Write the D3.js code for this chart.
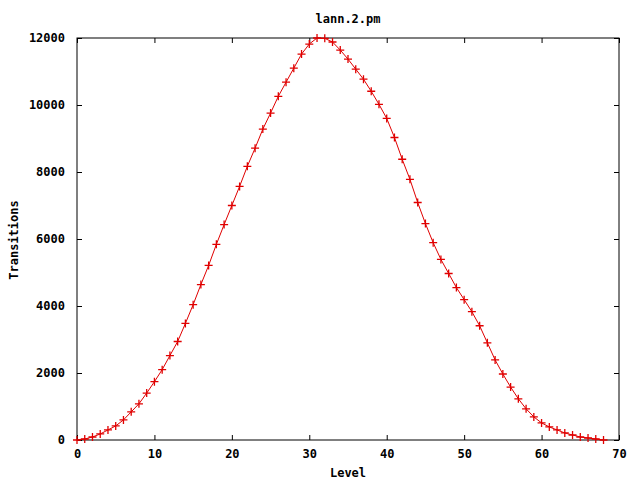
<!DOCTYPE html>
<html>
<head>
<meta charset="utf-8">
<title>lann.2.pm</title>
<script src="https://cdn.jsdelivr.net/npm/d3@7"></script>
<style>
  body { margin: 0; background: #fff; }
  text { font-family: "DejaVu Sans Mono", "Liberation Mono", monospace; font-weight: bold; font-size: 12px; fill: #000; }
</style>
</head>
<body>
<script>
// levels 0..68 and the transition counts
var levels = d3.range(0, 69);
var transitions = [
  0, 30, 90, 180, 300, 420, 600, 840, 1080, 1400,
  1740, 2100, 2520, 2940, 3480, 4040, 4640, 5210, 5840, 6430,
  7000, 7570, 8170, 8710, 9280, 9760, 10260, 10680, 11100, 11520,
  11820, 12000, 11990, 11880, 11640, 11370, 11070, 10770, 10410, 10020,
  9600, 9030, 8380, 7780, 7090, 6460, 5890, 5390, 4970, 4550,
  4190, 3830, 3410, 2900, 2390, 1970, 1580, 1230, 930, 690,
  510, 390, 300, 210, 150, 90, 60, 30, 0
];
var xTicks = [0, 10, 20, 30, 40, 50, 60, 70];
var yTicks = [0, 2000, 4000, 6000, 8000, 10000, 12000];

var width = 640, height = 480;
var plotLeft = 77, plotRight = 619, plotTop = 38, plotBottom = 440;

var svg = d3.select("body").append("svg")
    .attr("width", width)
    .attr("height", height);

var x = d3.scaleLinear().domain([0, 70]).range([plotLeft, plotRight]);
var y = d3.scaleLinear().domain([0, 12000]).range([plotBottom, plotTop]);

// axes: ticks inside, mirrored on the opposite side
var tick = 5;
svg.append("g").attr("transform", "translate(0," + plotBottom + ")")
  .call(d3.axisBottom(x).tickValues(xTicks).tickSize(-tick).tickPadding(9).tickFormat(d3.format("d")))
  .call(g => g.select(".domain").remove());
svg.append("g").attr("transform", "translate(0," + plotTop + ")")
  .call(d3.axisTop(x).tickValues(xTicks).tickSize(-tick).tickFormat(""))
  .call(g => g.select(".domain").remove());
svg.append("g").attr("transform", "translate(" + plotLeft + ",0)")
  .call(d3.axisLeft(y).tickValues(yTicks).tickSize(-tick).tickPadding(12).tickFormat(d3.format("d")))
  .call(g => g.select(".domain").remove());
svg.append("g").attr("transform", "translate(" + plotRight + ",0)")
  .call(d3.axisRight(y).tickValues(yTicks).tickSize(-tick).tickFormat(""))
  .call(g => g.select(".domain").remove());

svg.selectAll(".tick line").attr("stroke", "#000");
svg.selectAll(".tick text").style("font-size", "12px").style("font-family", "'DejaVu Sans Mono', monospace").style("font-weight", "bold");

svg.append("rect")
  .attr("x", plotLeft).attr("y", plotTop)
  .attr("width", plotRight - plotLeft).attr("height", plotBottom - plotTop)
  .attr("fill", "none").attr("stroke", "#000").attr("stroke-width", 1);

// data line
var pts = levels.map((d, i) => [d, transitions[i]]);
svg.append("path")
  .datum(pts)
  .attr("fill", "none")
  .attr("stroke", "#e00000")
  .attr("stroke-width", 1)
  .attr("d", d3.line().x(d => x(d[0])).y(d => y(d[1])));

// point markers "+"
var ps = 4;
svg.append("g").selectAll("path.pt")
  .data(pts)
  .join("path")
  .attr("class", "pt")
  .attr("fill", "none")
  .attr("stroke", "#e00000")
  .attr("stroke-width", 1.3)
  .attr("d", d => {
    var cx = x(d[0]), cy = y(d[1]);
    return "M" + (cx - ps) + "," + cy + "H" + (cx + ps) + "M" + cx + "," + (cy - ps) + "V" + (cy + ps);
  });

// titles
svg.append("text").attr("x", 348).attr("y", 23).attr("text-anchor", "middle").text("lann.2.pm");
svg.append("text").attr("x", 348).attr("y", 477).attr("text-anchor", "middle").text("Level");
svg.append("text")
  .attr("transform", "translate(18,240) rotate(-90)")
  .attr("text-anchor", "middle")
  .text("Transitions");
</script>
</body>
</html>
